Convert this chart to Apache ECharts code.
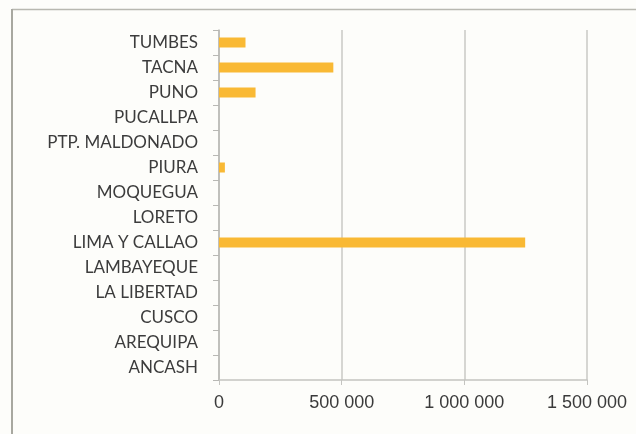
<!DOCTYPE html>
<html><head><meta charset="utf-8">
<script src="https://cdn.jsdelivr.net/npm/echarts@6/dist/echarts.min.js"></script>
<style>html,body{margin:0;padding:0;background:#fdfdfa;}#c{width:636px;height:434px;}</style>
</head><body><div id="c"></div>
<script>
const categories = ['ANCASH','AREQUIPA','CUSCO','LA LIBERTAD','LAMBAYEQUE','LIMA Y CALLAO','LORETO','MOQUEGUA','PIURA','PTP. MALDONADO','PUCALLPA','PUNO','TACNA','TUMBES'];
const values = [0,0,0,0,0,1248000,0,0,24000,0,0,149000,466000,108000];
const xTicks = [0,500000,1000000,1500000];

const chart = echarts.init(document.getElementById('c'));
chart.setOption({
  backgroundColor:'#fdfdfa',
  animation:false,
  graphic:[
    {type:'line',shape:{x1:12,y1:9.5,x2:636,y2:9.5},style:{stroke:'#b8b8b0',lineWidth:1.5}},
    {type:'line',shape:{x1:12,y1:9,x2:12,y2:434},style:{stroke:'#a8a8a0',lineWidth:2}}
  ],
  grid:{left:219,right:49,top:30,bottom:54,containLabel:false},
  xAxis:{type:'value',min:xTicks[0],max:xTicks[xTicks.length-1],interval:500000,
    axisLine:{show:true,lineStyle:{color:'#c4c4c0',width:1.5}},
    axisTick:{show:true,length:5,lineStyle:{color:'#c4c4c0'}},
    splitLine:{show:true,lineStyle:{color:'#c8c8c4',width:1.5}},
    axisLabel:{margin:14,color:'#3a3a3a',fontFamily:'Liberation Sans',fontSize:18,
      formatter:v=>String(v).replace(/\B(?=(\d{3})+(?!\d))/g,' ')}},
  yAxis:{type:'category',data:categories,
    axisLine:{show:true,lineStyle:{color:'#b8b8b4',width:1.5}},
    axisTick:{show:true,length:6,lineStyle:{color:'#b8b8b4'}},
    axisLabel:{margin:21,color:'#3c3c3c',fontFamily:'Lato',fontSize:17}},
  series:[{type:'bar',data:values,barWidth:10,itemStyle:{color:'#f9b934'}}]
});
</script></body></html>
